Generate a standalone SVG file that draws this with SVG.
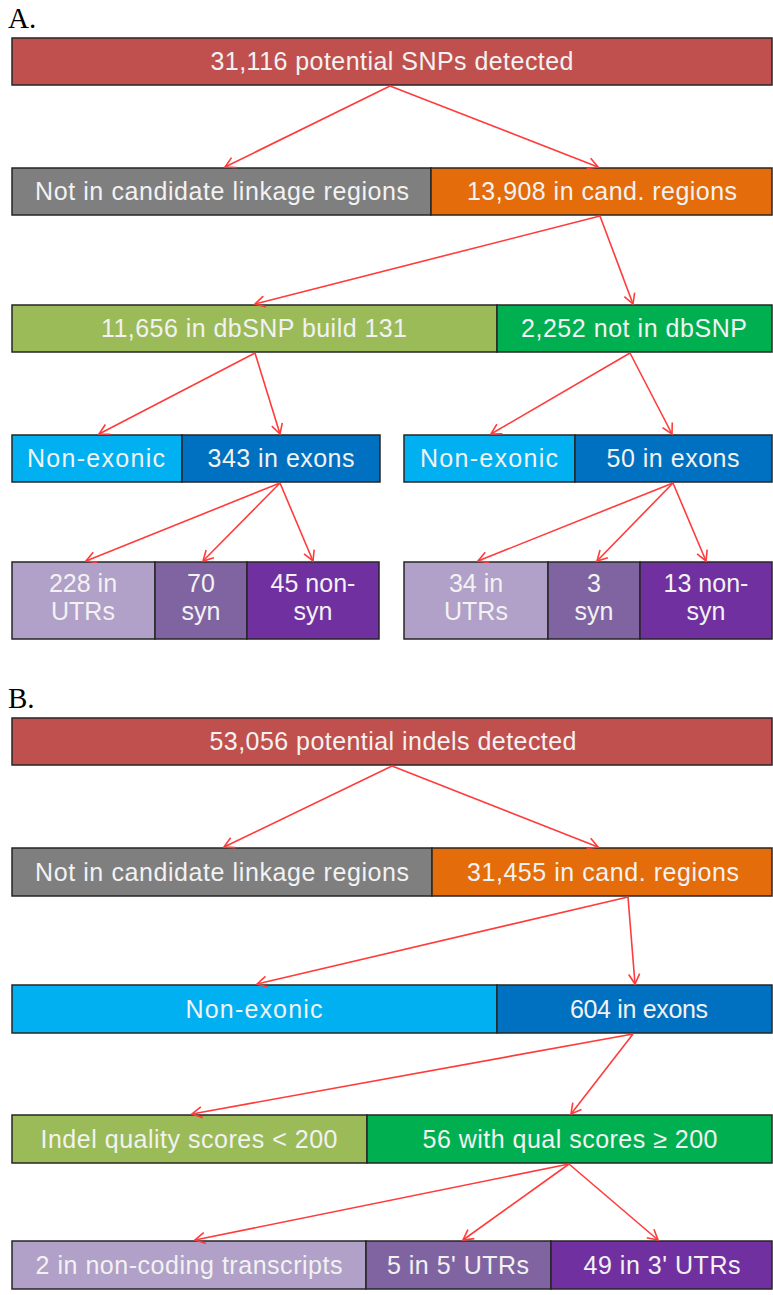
<svg xmlns="http://www.w3.org/2000/svg" width="773" height="1295" viewBox="0 0 773 1295">
<style>
.b{stroke:#262626;stroke-width:1.5}
.t{font-family:"Liberation Sans",Arial,sans-serif;font-size:25px;fill:#F2F2F2;text-anchor:middle}
.lab{font-family:"Liberation Serif","Times New Roman",serif;font-size:29px;fill:#000}
.red{fill:#C0504D}.gray{fill:#7F7F7F}.orange{fill:#E46C0A}.lgreen{fill:#9BBB59}.green{fill:#00B050}
.lblue{fill:#00B0F0}.blue{fill:#0070C0}.p1{fill:#B1A0C7}.p2{fill:#8064A2}.p3{fill:#7030A0}
.a{stroke:#FF3B3B;stroke-width:1.6;fill:none;marker-end:url(#ah)}
</style>
<defs>
<marker id="ah" markerWidth="14" markerHeight="14" refX="11" refY="7" orient="auto" markerUnits="userSpaceOnUse">
<path d="M1,1.5 L11,7 L1,12.5" fill="none" stroke="#FF3B3B" stroke-width="1.6"/>
</marker>
</defs>
<rect width="773" height="1295" fill="#fff"/>
<text class="lab" x="8" y="28">A.</text>
<text class="lab" x="8" y="708">B.</text>

<g id="a1"><rect class="b red" x="12" y="38" width="760" height="47"/><text class="t" x="392" y="70" textLength="363">31,116 potential SNPs detected</text></g>
<g id="a2l"><rect class="b gray" x="12" y="168" width="419" height="47"/><text class="t" x="222" y="200" textLength="374">Not in candidate linkage regions</text></g>
<g id="a2r"><rect class="b orange" x="431" y="168" width="341" height="47"/><text class="t" x="602" y="200" textLength="270">13,908 in cand. regions</text></g>
<g id="a3l"><rect class="b lgreen" x="12" y="305" width="485" height="47"/><text class="t" x="254" y="337" textLength="306">11,656 in dbSNP build 131</text></g>
<g id="a3r"><rect class="b green" x="497" y="305" width="275" height="47"/><text class="t" x="634" y="337" textLength="226">2,252 not in dbSNP</text></g>
<g id="a4a"><rect class="b lblue" x="12" y="435" width="170" height="47"/><text class="t" x="96" y="467" textLength="138">Non-exonic</text></g>
<g id="a4b"><rect class="b blue" x="182" y="435" width="198" height="47"/><text class="t" x="281" y="467" textLength="147">343 in exons</text></g>
<g id="a4c"><rect class="b lblue" x="404" y="435" width="171" height="47"/><text class="t" x="489" y="467" textLength="138">Non-exonic</text></g>
<g id="a4d"><rect class="b blue" x="575" y="435" width="197" height="47"/><text class="t" x="673" y="467" textLength="133">50 in exons</text></g>
<g id="a5a"><rect class="b p1" x="12" y="562" width="143" height="77"/><text class="t" x="83" y="592">228 in</text><text class="t" x="83" y="620">UTRs</text></g>
<g id="a5b"><rect class="b p2" x="155" y="562" width="92" height="77"/><text class="t" x="201" y="592">70</text><text class="t" x="201" y="620">syn</text></g>
<g id="a5c"><rect class="b p3" x="247" y="562" width="132" height="77"/><text class="t" x="313" y="592">45 non-</text><text class="t" x="313" y="620">syn</text></g>
<g id="a5d"><rect class="b p1" x="404" y="562" width="144" height="77"/><text class="t" x="476" y="592">34 in</text><text class="t" x="476" y="620">UTRs</text></g>
<g id="a5e"><rect class="b p2" x="548" y="562" width="92" height="77"/><text class="t" x="594" y="592">3</text><text class="t" x="594" y="620">syn</text></g>
<g id="a5f"><rect class="b p3" x="640" y="562" width="132" height="77"/><text class="t" x="706" y="592">13 non-</text><text class="t" x="706" y="620">syn</text></g>

<g id="b1"><rect class="b red" x="12" y="718" width="760" height="47"/><text class="t" x="393" y="750" textLength="367">53,056 potential indels detected</text></g>
<g id="b2l"><rect class="b gray" x="12" y="848" width="420" height="48"/><text class="t" x="222" y="881" textLength="374">Not in candidate linkage regions</text></g>
<g id="b2r"><rect class="b orange" x="432" y="848" width="340" height="48"/><text class="t" x="603" y="881" textLength="272">31,455 in cand. regions</text></g>
<g id="b3l"><rect class="b lblue" x="12" y="985" width="485" height="48"/><text class="t" x="254" y="1018" textLength="137">Non-exonic</text></g>
<g id="b3r"><rect class="b blue" x="497" y="985" width="275" height="48"/><text class="t" x="639" y="1018" textLength="138">604 in exons</text></g>
<g id="b4l"><rect class="b lgreen" x="12" y="1115" width="355" height="48"/><text class="t" x="189" y="1148" textLength="297">Indel quality scores &lt; 200</text></g>
<g id="b4r"><rect class="b green" x="367" y="1115" width="405" height="48"/><text class="t" x="570" y="1148" textLength="295">56 with qual scores ≥ 200</text></g>
<g id="b5a"><rect class="b p1" x="12" y="1241" width="354" height="48"/><text class="t" x="189" y="1274" textLength="307">2 in non-coding transcripts</text></g>
<g id="b5b"><rect class="b p2" x="366" y="1241" width="185" height="48"/><text class="t" x="458" y="1274" textLength="142">5 in 5' UTRs</text></g>
<g id="b5c"><rect class="b p3" x="551" y="1241" width="221" height="48"/><text class="t" x="662" y="1274" textLength="157">49 in 3' UTRs</text></g>

<g id="connectors">
<line class="a" x1="390" y1="86" x2="225" y2="167"/>
<line class="a" x1="390" y1="86" x2="598" y2="167"/>
<line class="a" x1="600" y1="216" x2="255" y2="304"/>
<line class="a" x1="600" y1="216" x2="633" y2="304"/>
<line class="a" x1="255" y1="353" x2="99" y2="434"/>
<line class="a" x1="255" y1="353" x2="280" y2="434"/>
<line class="a" x1="630" y1="353" x2="491" y2="434"/>
<line class="a" x1="630" y1="353" x2="672" y2="434"/>
<line class="a" x1="280" y1="483" x2="86" y2="561"/>
<line class="a" x1="280" y1="483" x2="203" y2="561"/>
<line class="a" x1="280" y1="483" x2="313" y2="561"/>
<line class="a" x1="673" y1="483" x2="478" y2="561"/>
<line class="a" x1="673" y1="483" x2="597" y2="561"/>
<line class="a" x1="673" y1="483" x2="706" y2="561"/>
<line class="a" x1="392" y1="766" x2="224" y2="847"/>
<line class="a" x1="392" y1="766" x2="598" y2="847"/>
<line class="a" x1="628" y1="897" x2="257" y2="984"/>
<line class="a" x1="628" y1="897" x2="635" y2="984"/>
<line class="a" x1="633" y1="1034" x2="192" y2="1114"/>
<line class="a" x1="633" y1="1034" x2="571" y2="1114"/>
<line class="a" x1="569" y1="1164" x2="195" y2="1240"/>
<line class="a" x1="569" y1="1164" x2="463" y2="1240"/>
<line class="a" x1="569" y1="1164" x2="658" y2="1240"/>
</g>
</svg>
